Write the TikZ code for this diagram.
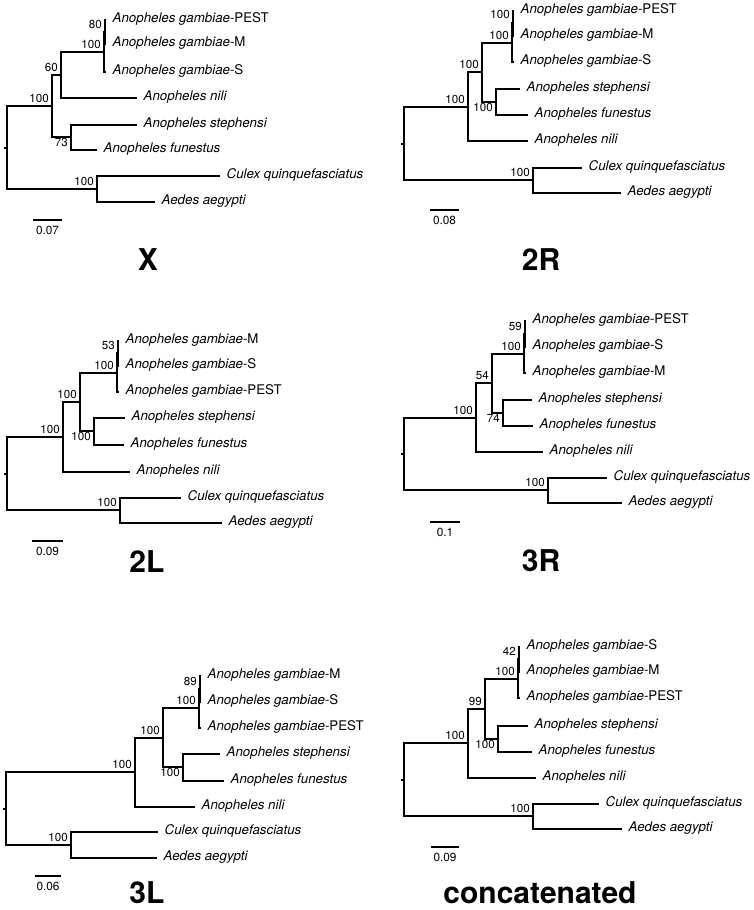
\documentclass[tikz,border=0pt]{standalone}
\usepackage{fontspec}
\setmainfont{TeX Gyre Heros}
\usetikzlibrary{positioning,calc}
\tikzset{
  br/.style={line width=2pt, line cap=butt, line join=miter},
  tip/.style={anchor=mid west, inner sep=0pt, xshift=6.5pt, font=\fontsize{13.3}{15}\selectfont},
  boot/.style={anchor=base east, inner sep=0pt, xshift=-3pt, yshift=4pt, font=\fontsize{11.6}{13}\selectfont},
  bootb/.style={boot, yshift=-13.5pt},
  scl/.style={anchor=base, inner sep=0pt, yshift=-14.5pt, font=\fontsize{11.8}{13}\selectfont},
  ttl/.style={anchor=base, inner sep=0pt, font=\fontsize{30}{32}\selectfont\bfseries},
}
\newcommand{\Ag}[1]{\textit{Anopheles gambiae}-#1}

\begin{document}
\begin{tikzpicture}[x=1pt, y=-1pt]
\useasboundingbox (0,0) rectangle (753,910);

% --- X ---
\coordinate (X-rs) at (4,148);
\coordinate (X-r) at (7,148);
\coordinate (X-n1) at (52,106);
\coordinate (X-n2) at (97,189);
\coordinate (X-n3) at (61,75);
\coordinate (X-n4) at (71,137);
\coordinate (X-g) at (104,52);
\coordinate (X-gi) at (105,32);
\coordinate (X-pest) at (106,20);
\coordinate (X-m) at (106,44);
\coordinate (X-s) at (106,72);
\coordinate (X-nil) at (137,98);
\coordinate (X-ste) at (137,125);
\coordinate (X-fun) at (97,150);
\coordinate (X-cul) at (220,176);
\coordinate (X-aed) at (155,202);
\draw[br] (X-rs) -- (X-r);
\draw[br] (X-r) |- (X-n1) (X-r) |- (X-n2);
\draw[br] (X-n1) |- (X-n3) (X-n1) |- (X-n4);
\draw[br] (X-n3) |- (X-g) (X-n3) |- (X-nil);
\draw[br] (X-g) |- (X-gi) (X-g) |- (X-s);
\draw[br] (X-gi) |- (X-pest) (X-gi) |- (X-m);
\draw[br] (X-n4) |- (X-ste) (X-n4) |- (X-fun);
\draw[br] (X-n2) |- (X-cul) (X-n2) |- (X-aed);
\node[tip] (X-pestl) at (X-pest) {\Ag{PEST}};
\node[tip] (X-ml) at (X-m) {\Ag{M}};
\node[tip] (X-sl) at (X-s) {\Ag{S}};
\node[tip] (X-nill) at (X-nil) {\textit{Anopheles nili}};
\node[tip] (X-stel) at (X-ste) {\textit{Anopheles stephensi}};
\node[tip] (X-funl) at (X-fun) {\textit{Anopheles funestus}};
\node[tip] (X-cull) at (X-cul) {\textit{Culex quinquefasciatus}};
\node[tip] (X-aedl) at (X-aed) {\textit{Aedes aegypti}};
\node[boot] (X-b1) at (X-n1) {100};
\node[boot] (X-b2) at (X-n2) {100};
\node[boot] (X-b3) at (X-n3) {60};
\node[bootb] (X-b4) at (X-n4) {73};
\node[boot] (X-bg) at (X-g) {100};
\node[boot] (X-bgi) at (X-gi) {80};
\coordinate (X-s0) at (33,220);
\coordinate (X-s1) at (62,220);
\draw[br] (X-s0) -- (X-s1);
\node[scl] (X-sc) at ($(X-s0)!0.5!(X-s1)$) {0.07};
\node[ttl] (X-t) at (148,270) {X};

% --- 2R ---
\coordinate (R2-rs) at (401,144);
\coordinate (R2-r) at (404,144);
\coordinate (R2-n1) at (468,107);
\coordinate (R2-n2) at (533,180);
\coordinate (R2-n3) at (482,72);
\coordinate (R2-n4) at (496,102);
\coordinate (R2-g) at (512,43);
\coordinate (R2-gi) at (513,23);
\coordinate (R2-pest) at (514,11);
\coordinate (R2-m) at (514,36);
\coordinate (R2-s) at (514,62);
\coordinate (R2-ste) at (520,89);
\coordinate (R2-fun) at (528,115);
\coordinate (R2-nil) at (528,141);
\coordinate (R2-cul) at (582,168);
\coordinate (R2-aed) at (621,193);
\draw[br] (R2-rs) -- (R2-r);
\draw[br] (R2-r) |- (R2-n1) (R2-r) |- (R2-n2);
\draw[br] (R2-n1) |- (R2-n3) (R2-n1) |- (R2-nil);
\draw[br] (R2-n3) |- (R2-g) (R2-n3) |- (R2-n4);
\draw[br] (R2-g) |- (R2-gi) (R2-g) |- (R2-s);
\draw[br] (R2-gi) |- (R2-pest) (R2-gi) |- (R2-m);
\draw[br] (R2-n4) |- (R2-ste) (R2-n4) |- (R2-fun);
\draw[br] (R2-n2) |- (R2-cul) (R2-n2) |- (R2-aed);
\node[tip] (R2-pestl) at (R2-pest) {\Ag{PEST}};
\node[tip] (R2-ml) at (R2-m) {\Ag{M}};
\node[tip] (R2-sl) at (R2-s) {\Ag{S}};
\node[tip] (R2-stel) at (R2-ste) {\textit{Anopheles stephensi}};
\node[tip] (R2-funl) at (R2-fun) {\textit{Anopheles funestus}};
\node[tip] (R2-nill) at (R2-nil) {\textit{Anopheles nili}};
\node[tip] (R2-cull) at (R2-cul) {\textit{Culex quinquefasciatus}};
\node[tip] (R2-aedl) at (R2-aed) {\textit{Aedes aegypti}};
\node[boot] (R2-b1) at (R2-n1) {100};
\node[boot] (R2-b2) at (R2-n2) {100};
\node[boot] (R2-b3) at (R2-n3) {100};
\node[bootb] (R2-b4) at (R2-n4) {100};
\node[boot] (R2-bg) at (R2-g) {100};
\node[boot] (R2-bgi) at (R2-gi) {100};
\coordinate (R2-s0) at (430,210);
\coordinate (R2-s1) at (459,210);
\draw[br] (R2-s0) -- (R2-s1);
\node[scl] (R2-sc) at ($(R2-s0)!0.5!(R2-s1)$) {0.08};
\node[ttl] (R2-t) at (541,270) {2R};

% --- 2L ---
\coordinate (L2-rs) at (4,474);
\coordinate (L2-r) at (7,474);
\coordinate (L2-n1) at (63,437);
\coordinate (L2-n2) at (120,510);
\coordinate (L2-n3) at (80,402);
\coordinate (L2-n4) at (94,431);
\coordinate (L2-g) at (117,373);
\coordinate (L2-gi) at (118,353);
\coordinate (L2-m) at (119,341);
\coordinate (L2-s) at (119,366);
\coordinate (L2-pest) at (119,392);
\coordinate (L2-ste) at (125,418);
\coordinate (L2-fun) at (124,445);
\coordinate (L2-nil) at (130,472);
\coordinate (L2-cul) at (181,498);
\coordinate (L2-aed) at (222,523);
\draw[br] (L2-rs) -- (L2-r);
\draw[br] (L2-r) |- (L2-n1) (L2-r) |- (L2-n2);
\draw[br] (L2-n1) |- (L2-n3) (L2-n1) |- (L2-nil);
\draw[br] (L2-n3) |- (L2-g) (L2-n3) |- (L2-n4);
\draw[br] (L2-g) |- (L2-gi) (L2-g) |- (L2-pest);
\draw[br] (L2-gi) |- (L2-m) (L2-gi) |- (L2-s);
\draw[br] (L2-n4) |- (L2-ste) (L2-n4) |- (L2-fun);
\draw[br] (L2-n2) |- (L2-cul) (L2-n2) |- (L2-aed);
\node[tip] (L2-ml) at (L2-m) {\Ag{M}};
\node[tip] (L2-sl) at (L2-s) {\Ag{S}};
\node[tip] (L2-pestl) at (L2-pest) {\Ag{PEST}};
\node[tip] (L2-stel) at (L2-ste) {\textit{Anopheles stephensi}};
\node[tip] (L2-funl) at (L2-fun) {\textit{Anopheles funestus}};
\node[tip] (L2-nill) at (L2-nil) {\textit{Anopheles nili}};
\node[tip] (L2-cull) at (L2-cul) {\textit{Culex quinquefasciatus}};
\node[tip] (L2-aedl) at (L2-aed) {\textit{Aedes aegypti}};
\node[boot] (L2-b1) at (L2-n1) {100};
\node[boot] (L2-b2) at (L2-n2) {100};
\node[boot] (L2-b3) at (L2-n3) {100};
\node[bootb] (L2-b4) at (L2-n4) {100};
\node[boot] (L2-bg) at (L2-g) {100};
\node[boot] (L2-bgi) at (L2-gi) {53};
\coordinate (L2-s0) at (32,541);
\coordinate (L2-s1) at (63,541);
\draw[br] (L2-s0) -- (L2-s1);
\node[scl] (L2-sc) at ($(L2-s0)!0.5!(L2-s1)$) {0.09};
\node[ttl] (L2-t) at (147,572) {2L};

% --- 3R ---
\coordinate (R3-rs) at (401,454);
\coordinate (R3-r) at (404,454);
\coordinate (R3-n1) at (476,418);
\coordinate (R3-n2) at (548,490);
\coordinate (R3-n3) at (492,383);
\coordinate (R3-n4) at (503,413);
\coordinate (R3-g) at (524,354);
\coordinate (R3-gi) at (525,334);
\coordinate (R3-pest) at (526,321);
\coordinate (R3-s) at (526,347);
\coordinate (R3-m) at (526,373);
\coordinate (R3-ste) at (532,400);
\coordinate (R3-fun) at (533,426);
\coordinate (R3-nil) at (543,452);
\coordinate (R3-cul) at (607,478);
\coordinate (R3-aed) at (622,503);
\draw[br] (R3-rs) -- (R3-r);
\draw[br] (R3-r) |- (R3-n1) (R3-r) |- (R3-n2);
\draw[br] (R3-n1) |- (R3-n3) (R3-n1) |- (R3-nil);
\draw[br] (R3-n3) |- (R3-g) (R3-n3) |- (R3-n4);
\draw[br] (R3-g) |- (R3-gi) (R3-g) |- (R3-m);
\draw[br] (R3-gi) |- (R3-pest) (R3-gi) |- (R3-s);
\draw[br] (R3-n4) |- (R3-ste) (R3-n4) |- (R3-fun);
\draw[br] (R3-n2) |- (R3-cul) (R3-n2) |- (R3-aed);
\node[tip] (R3-pestl) at (R3-pest) {\Ag{PEST}};
\node[tip] (R3-sl) at (R3-s) {\Ag{S}};
\node[tip] (R3-ml) at (R3-m) {\Ag{M}};
\node[tip] (R3-stel) at (R3-ste) {\textit{Anopheles stephensi}};
\node[tip] (R3-funl) at (R3-fun) {\textit{Anopheles funestus}};
\node[tip] (R3-nill) at (R3-nil) {\textit{Anopheles nili}};
\node[tip] (R3-cull) at (R3-cul) {\textit{Culex quinquefasciatus}};
\node[tip] (R3-aedl) at (R3-aed) {\textit{Aedes aegypti}};
\node[boot] (R3-b1) at (R3-n1) {100};
\node[boot] (R3-b2) at (R3-n2) {100};
\node[boot] (R3-b3) at (R3-n3) {54};
\node[bootb] (R3-b4) at (R3-n4) {74};
\node[boot] (R3-bg) at (R3-g) {100};
\node[boot] (R3-bgi) at (R3-gi) {59};
\coordinate (R3-s0) at (430,522);
\coordinate (R3-s1) at (460,522);
\draw[br] (R3-s0) -- (R3-s1);
\node[scl] (R3-sc) at ($(R3-s0)!0.5!(R3-s1)$) {0.1};
\node[ttl] (R3-t) at (541,571) {3R};

% --- 3L ---
\coordinate (L3-rs) at (3,809);
\coordinate (L3-r) at (6,809);
\coordinate (L3-n1) at (135,772);
\coordinate (L3-n2) at (71,845);
\coordinate (L3-n3) at (163,738);
\coordinate (L3-n4) at (183,767);
\coordinate (L3-g) at (199,708);
\coordinate (L3-gi) at (200,689);
\coordinate (L3-m) at (201,676);
\coordinate (L3-s) at (201,702);
\coordinate (L3-pest) at (201,728);
\coordinate (L3-ste) at (220,754);
\coordinate (L3-fun) at (224,781);
\coordinate (L3-nil) at (195,807);
\coordinate (L3-cul) at (158,832);
\coordinate (L3-aed) at (157,858);
\draw[br] (L3-rs) -- (L3-r);
\draw[br] (L3-r) |- (L3-n1) (L3-r) |- (L3-n2);
\draw[br] (L3-n1) |- (L3-n3) (L3-n1) |- (L3-nil);
\draw[br] (L3-n3) |- (L3-g) (L3-n3) |- (L3-n4);
\draw[br] (L3-g) |- (L3-gi) (L3-g) |- (L3-pest);
\draw[br] (L3-gi) |- (L3-m) (L3-gi) |- (L3-s);
\draw[br] (L3-n4) |- (L3-ste) (L3-n4) |- (L3-fun);
\draw[br] (L3-n2) |- (L3-cul) (L3-n2) |- (L3-aed);
\node[tip] (L3-ml) at (L3-m) {\Ag{M}};
\node[tip] (L3-sl) at (L3-s) {\Ag{S}};
\node[tip] (L3-pestl) at (L3-pest) {\Ag{PEST}};
\node[tip] (L3-stel) at (L3-ste) {\textit{Anopheles stephensi}};
\node[tip] (L3-funl) at (L3-fun) {\textit{Anopheles funestus}};
\node[tip] (L3-nill) at (L3-nil) {\textit{Anopheles nili}};
\node[tip] (L3-cull) at (L3-cul) {\textit{Culex quinquefasciatus}};
\node[tip] (L3-aedl) at (L3-aed) {\textit{Aedes aegypti}};
\node[boot] (L3-b1) at (L3-n1) {100};
\node[boot] (L3-b2) at (L3-n2) {100};
\node[boot] (L3-b3) at (L3-n3) {100};
\node[bootb] (L3-b4) at (L3-n4) {100};
\node[boot] (L3-bg) at (L3-g) {100};
\node[boot] (L3-bgi) at (L3-gi) {89};
\coordinate (L3-s0) at (35,876);
\coordinate (L3-s1) at (61,876);
\draw[br] (L3-s0) -- (L3-s1);
\node[scl] (L3-sc) at ($(L3-s0)!0.5!(L3-s1)$) {0.06};
\node[ttl] (L3-t) at (147,903) {3L};

% --- concatenated ---
\coordinate (C-rs) at (401,780);
\coordinate (C-r) at (404,780);
\coordinate (C-n1) at (468,743);
\coordinate (C-n2) at (533,816);
\coordinate (C-n3) at (485,709);
\coordinate (C-n4) at (498,739);
\coordinate (C-g) at (518,679);
\coordinate (C-gi) at (519,659);
\coordinate (C-s) at (520,647);
\coordinate (C-m) at (520,672);
\coordinate (C-pest) at (520,698);
\coordinate (C-ste) at (528,726);
\coordinate (C-fun) at (532,752);
\coordinate (C-nil) at (536,778);
\coordinate (C-cul) at (599,804);
\coordinate (C-aed) at (622,829);
\draw[br] (C-rs) -- (C-r);
\draw[br] (C-r) |- (C-n1) (C-r) |- (C-n2);
\draw[br] (C-n1) |- (C-n3) (C-n1) |- (C-nil);
\draw[br] (C-n3) |- (C-g) (C-n3) |- (C-n4);
\draw[br] (C-g) |- (C-gi) (C-g) |- (C-pest);
\draw[br] (C-gi) |- (C-s) (C-gi) |- (C-m);
\draw[br] (C-n4) |- (C-ste) (C-n4) |- (C-fun);
\draw[br] (C-n2) |- (C-cul) (C-n2) |- (C-aed);
\node[tip] (C-sl) at (C-s) {\Ag{S}};
\node[tip] (C-ml) at (C-m) {\Ag{M}};
\node[tip] (C-pestl) at (C-pest) {\Ag{PEST}};
\node[tip] (C-stel) at (C-ste) {\textit{Anopheles stephensi}};
\node[tip] (C-funl) at (C-fun) {\textit{Anopheles funestus}};
\node[tip] (C-nill) at (C-nil) {\textit{Anopheles nili}};
\node[tip] (C-cull) at (C-cul) {\textit{Culex quinquefasciatus}};
\node[tip] (C-aedl) at (C-aed) {\textit{Aedes aegypti}};
\node[boot] (C-b1) at (C-n1) {100};
\node[boot] (C-b2) at (C-n2) {100};
\node[boot] (C-b3) at (C-n3) {99};
\node[bootb] (C-b4) at (C-n4) {100};
\node[boot] (C-bg) at (C-g) {100};
\node[boot] (C-bgi) at (C-gi) {42};
\coordinate (C-s0) at (431,847);
\coordinate (C-s1) at (459,847);
\draw[br] (C-s0) -- (C-s1);
\node[scl] (C-sc) at ($(C-s0)!0.5!(C-s1)$) {0.09};
\node[ttl] (C-t) at (540,903) {concatenated};
\end{tikzpicture}
\end{document}
